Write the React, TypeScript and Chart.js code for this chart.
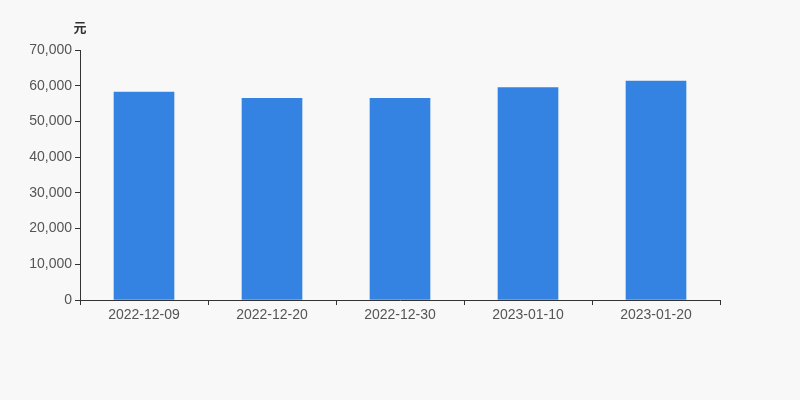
import React, { useEffect, useRef } from "react";
import { Chart, registerables } from "chart.js";

Chart.register(...registerables);

const categories = ["2022-12-09", "2022-12-20", "2022-12-30", "2023-01-10", "2023-01-20"];
const values = [58200, 56500, 56500, 59500, 61300];
const yTicks = [0, 10000, 20000, 30000, 40000, 50000, 60000, 70000];
const unitLabel = "元";

const FONT = "'Liberation Sans', Arial, sans-serif";

export default function App() {
  const ref = useRef<HTMLCanvasElement | null>(null);
  useEffect(() => {
    document.body.style.margin = "0";
    document.body.style.background = "#f8f8f8";
    const unitPlugin = {
      id: "unitPlugin",
      afterDraw(chart: any) {
        const ctx = chart.ctx;
        ctx.save();
        ctx.font = `bold 13px 'Noto Sans CJK SC', sans-serif`;
        ctx.fillStyle = "#333";
        ctx.textAlign = "center";
        ctx.textBaseline = "middle";
        ctx.fillText(unitLabel, chart.chartArea.left, 27);
        ctx.restore();
      },
    };
    const chart = new Chart(ref.current!, {
      type: "bar",
      data: {
        labels: categories,
        datasets: [
          {
            data: values,
            backgroundColor: "#3483e3",
            barThickness: 60,
          },
        ],
      },
      options: {
        animation: false,
        responsive: false,
        layout: { padding: { left: 0, right: 80, top: 50, bottom: 0 } },
        plugins: { legend: { display: false }, tooltip: { enabled: false } },
        scales: {
          x: {
            offset: true,
            grid: {
              offset: true,
              drawOnChartArea: false,
              drawTicks: true,
              tickLength: 5,
              color: "#333",
            },
            border: { display: true, color: "#333", width: 1 },
            ticks: { color: "#555", font: { family: FONT, size: 14 }, padding: 2, maxRotation: 0 },
            afterFit(scale: any) {
              scale.height = 100;
            },
          },
          y: {
            min: 0,
            max: 70000,
            afterBuildTicks(scale: any) {
              scale.ticks = yTicks.map((v) => ({ value: v }));
            },
            grid: { drawOnChartArea: false, drawTicks: true, tickLength: 5, color: "#333" },
            border: { display: true, color: "#333", width: 1 },
            ticks: {
              color: "#555",
              font: { family: FONT, size: 14 },
              padding: 3,
              callback: (v: any) => Number(v).toLocaleString("en-US"),
            },
            afterFit(scale: any) {
              scale.width = 80;
            },
          },
        },
      },
      plugins: [unitPlugin],
    });
    return () => chart.destroy();
  }, []);
  return (
    <div style={{ width: 800, height: 400, background: "#f8f8f8" }}>
      <canvas ref={ref} width={800} height={400} style={{ display: "block" }} />
    </div>
  );
}
